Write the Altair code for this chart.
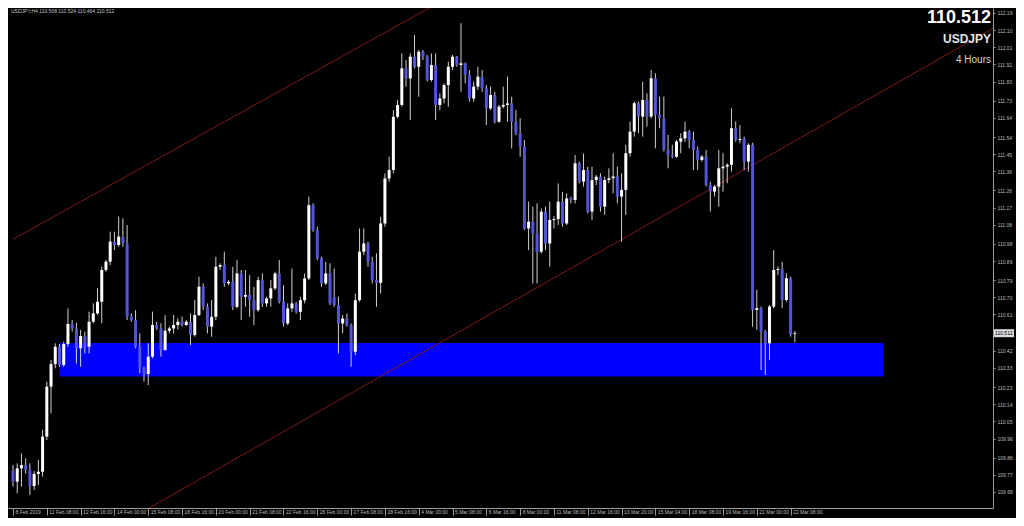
import altair as alt
import pandas as pd

# ---------------- data (USDJPY, H4) ----------------
opens = [
    109.791, 109.734, 109.804, 109.821, 109.795, 109.711, 109.774, 109.786, 109.970, 110.232,
    110.350, 110.441, 110.345, 110.455, 110.560, 110.537, 110.433, 110.497, 110.441, 110.572,
    110.616, 110.677, 110.843, 110.887, 110.992, 110.974, 111.018, 110.983, 110.599, 110.581,
    110.441, 110.328, 110.298, 110.389, 110.555, 110.537, 110.424, 110.525, 110.537, 110.555,
    110.572, 110.555, 110.572, 110.502, 110.607, 110.756, 110.650, 110.546, 110.598, 110.860,
    110.869, 110.773, 110.781, 110.650, 110.825, 110.703, 110.712, 110.685, 110.633, 110.790,
    110.668, 110.694, 110.747, 110.825, 110.677, 110.563, 110.642, 110.668, 110.624, 110.685,
    110.799, 111.183, 111.052, 110.904, 110.773, 110.825, 110.700, 110.659, 110.563, 110.589,
    110.554, 110.415, 110.685, 110.939, 110.982, 110.886, 110.790, 110.776, 111.087, 111.323,
    111.367, 111.646, 111.708, 111.900, 111.847, 111.961, 111.908, 111.987, 111.961, 111.839,
    111.917, 111.708, 111.742, 111.812, 111.908, 111.961, 111.917, 111.926, 111.865, 111.742,
    111.804, 111.856, 111.795, 111.690, 111.760, 111.620, 111.699, 111.708, 111.716, 111.620,
    111.559, 111.489, 111.061, 111.096, 111.035, 110.939, 111.149, 110.982, 111.105, 111.110,
    111.201, 111.087, 111.218, 111.210, 111.402, 111.306, 111.367, 111.149, 111.314, 111.332,
    111.175, 111.315, 111.324, 111.333, 111.228, 111.263, 111.455, 111.568, 111.717, 111.647,
    111.734, 111.647, 111.848, 111.656, 111.638, 111.472, 111.446, 111.437, 111.516, 111.533,
    111.568, 111.525, 111.472, 111.420, 111.437, 111.289, 111.254, 111.280, 111.376, 111.385,
    111.394, 111.586, 111.525, 111.530, 111.411, 111.499, 110.634, 110.643, 110.520, 110.459,
    110.651, 110.843, 110.848, 110.686, 110.800, 110.508,
]
highs = [
    109.821, 109.830, 109.882, 109.856, 109.830, 109.790, 109.847, 110.005, 110.258, 110.371,
    110.459, 110.455, 110.468, 110.642, 110.581, 110.567, 110.529, 110.520, 110.625, 110.668,
    110.747, 110.861, 110.896, 111.044, 111.044, 111.123, 111.114, 111.079, 110.616, 110.633,
    110.511, 110.336, 110.459, 110.625, 110.572, 110.564, 110.607, 110.546, 110.607, 110.590,
    110.599, 110.581, 110.616, 110.686, 110.808, 110.773, 110.668, 110.685, 110.912, 110.878,
    110.939, 110.790, 110.860, 110.895, 110.843, 110.843, 110.816, 110.755, 110.808, 110.825,
    110.703, 110.790, 110.834, 110.895, 110.764, 110.668, 110.851, 110.677, 110.703, 110.825,
    111.227, 111.192, 111.070, 110.912, 110.886, 110.878, 110.851, 110.703, 110.607, 110.615,
    110.563, 110.720, 111.061, 111.061, 110.990, 110.912, 110.930, 111.122, 111.349, 111.437,
    111.681, 111.734, 111.978, 111.943, 111.978, 112.074, 111.996, 111.996, 111.970, 111.978,
    111.978, 111.769, 111.821, 111.935, 111.970, 111.965, 112.136, 111.930, 111.891, 111.830,
    111.908, 111.891, 111.812, 111.804, 111.777, 111.708, 111.804, 111.856, 111.751, 111.681,
    111.638, 111.524, 111.201, 111.175, 111.192, 111.166, 111.175, 111.201, 111.125, 111.297,
    111.253, 111.245, 111.227, 111.446, 111.411, 111.454, 111.384, 111.384, 111.341, 111.350,
    111.333, 111.376, 111.455, 111.385, 111.350, 111.499, 111.621, 111.726, 111.726, 111.830,
    111.769, 111.892, 111.874, 111.752, 111.752, 111.551, 111.499, 111.525, 111.560, 111.621,
    111.577, 111.568, 111.490, 111.446, 111.472, 111.306, 111.289, 111.472, 111.455, 111.402,
    111.691, 111.621, 111.603, 111.542, 111.507, 111.510, 110.739, 110.651, 110.529, 110.660,
    110.948, 110.862, 110.887, 110.826, 110.808, 110.524,
]
lows = [
    109.708, 109.673, 109.708, 109.777, 109.664, 109.690, 109.716, 109.760, 109.952, 110.092,
    110.328, 110.336, 110.336, 110.441, 110.520, 110.354, 110.336, 110.406, 110.406, 110.564,
    110.607, 110.564, 110.834, 110.869, 110.948, 110.965, 110.965, 110.581, 110.572, 110.433,
    110.302, 110.258, 110.240, 110.380, 110.529, 110.389, 110.420, 110.511, 110.511, 110.532,
    110.546, 110.550, 110.450, 110.494, 110.602, 110.633, 110.511, 110.493, 110.581, 110.843,
    110.755, 110.764, 110.633, 110.642, 110.581, 110.650, 110.598, 110.554, 110.624, 110.650,
    110.650, 110.650, 110.738, 110.668, 110.546, 110.554, 110.624, 110.615, 110.581, 110.668,
    110.790, 111.043, 110.895, 110.755, 110.764, 110.659, 110.650, 110.406, 110.511, 110.546,
    110.336, 110.397, 110.677, 110.921, 110.860, 110.773, 110.650, 110.720, 111.070, 111.306,
    111.349, 111.638, 111.699, 111.804, 111.629, 111.900, 111.751, 111.943, 111.830, 111.830,
    111.629, 111.681, 111.716, 111.699, 111.891, 111.908, 111.777, 111.821, 111.725, 111.725,
    111.786, 111.777, 111.603, 111.681, 111.611, 111.615, 111.690, 111.620, 111.480, 111.550,
    111.437, 111.052, 110.948, 110.773, 110.773, 110.930, 110.948, 110.860, 111.061, 111.079,
    111.070, 111.079, 111.192, 111.192, 111.297, 111.280, 111.140, 111.105, 111.288, 111.149,
    111.132, 111.298, 111.245, 111.193, 110.992, 111.132, 111.437, 111.542, 111.560, 111.542,
    111.595, 111.638, 111.481, 111.586, 111.464, 111.376, 111.429, 111.430, 111.455, 111.516,
    111.481, 111.367, 111.367, 111.411, 111.280, 111.149, 111.228, 111.175, 111.254, 111.298,
    111.359, 111.516, 111.507, 111.367, 111.359, 110.546, 110.529, 110.319, 110.293, 110.372,
    110.643, 110.817, 110.643, 110.677, 110.494, 110.464,
]
closes = [
    109.734, 109.804, 109.821, 109.795, 109.711, 109.774, 109.786, 109.970, 110.232, 110.350,
    110.441, 110.345, 110.455, 110.560, 110.537, 110.433, 110.497, 110.441, 110.572, 110.616,
    110.677, 110.843, 110.887, 110.992, 110.974, 111.018, 110.983, 110.599, 110.581, 110.441,
    110.328, 110.298, 110.389, 110.555, 110.537, 110.424, 110.525, 110.537, 110.555, 110.572,
    110.555, 110.572, 110.502, 110.607, 110.756, 110.650, 110.546, 110.598, 110.860, 110.869,
    110.773, 110.781, 110.650, 110.825, 110.703, 110.712, 110.685, 110.633, 110.790, 110.668,
    110.694, 110.747, 110.825, 110.677, 110.563, 110.642, 110.668, 110.624, 110.685, 110.799,
    111.183, 111.052, 110.904, 110.773, 110.825, 110.668, 110.659, 110.563, 110.589, 110.554,
    110.415, 110.685, 110.939, 110.982, 110.886, 110.790, 110.776, 111.087, 111.323, 111.367,
    111.646, 111.708, 111.900, 111.847, 111.961, 111.908, 111.987, 111.961, 111.839, 111.917,
    111.708, 111.742, 111.812, 111.908, 111.961, 111.917, 111.926, 111.865, 111.742, 111.804,
    111.856, 111.795, 111.690, 111.760, 111.620, 111.699, 111.708, 111.716, 111.620, 111.559,
    111.489, 111.061, 111.096, 111.035, 110.939, 111.149, 110.982, 111.105, 111.110, 111.201,
    111.087, 111.218, 111.210, 111.402, 111.306, 111.367, 111.149, 111.314, 111.332, 111.175,
    111.315, 111.324, 111.333, 111.228, 111.263, 111.455, 111.568, 111.717, 111.647, 111.734,
    111.647, 111.848, 111.656, 111.638, 111.472, 111.446, 111.437, 111.516, 111.533, 111.568,
    111.525, 111.472, 111.420, 111.437, 111.289, 111.254, 111.280, 111.376, 111.385, 111.394,
    111.586, 111.525, 111.530, 111.411, 111.499, 110.634, 110.643, 110.520, 110.459, 110.651,
    110.843, 110.848, 110.686, 110.800, 110.503, 110.512,
]

x_ticks = list(range(0, 185, 8))
x_labels = [
    "8 Feb 2019", "11 Feb 08:00", "12 Feb 16:00", "14 Feb 00:00", "15 Feb 08:00",
    "18 Feb 16:00", "20 Feb 00:00", "21 Feb 08:00", "22 Feb 16:00", "26 Feb 00:00",
    "27 Feb 08:00", "28 Feb 16:00", "4 Mar 00:00", "5 Mar 08:00", "6 Mar 16:00",
    "8 Mar 00:00", "11 Mar 08:00", "12 Mar 16:00", "13 Mar 20:00", "15 Mar 04:00",
    "18 Mar 08:00", "19 Mar 16:00", "21 Mar 00:00", "22 Mar 08:00",
]
y_ticks = [
    112.19, 112.10, 112.01, 111.92, 111.83, 111.73, 111.64, 111.54, 111.45, 111.36,
    111.26, 111.17, 111.08, 110.98, 110.89, 110.79, 110.70, 110.61, 110.42, 110.33,
    110.23, 110.14, 110.05, 109.96, 109.86, 109.77, 109.68,
]

current_price = 110.512
symbol = "USDJPY"
timeframe = "4 Hours"
header = "USDJPY,H4  110.508 110.524 110.464 110.512"

# support zone (bar index range, price range)
zone_x = [11.0, 205.9]
zone_p = [110.460, 110.285]
# channel lines (bar index, price)
upper_x = [0, 120]
upper_p = [111.004, 112.481]
lower_x = [18, 232]
lower_p = [109.417, 112.111]

# ---------------- chart ----------------
FONT = "Liberation Sans"
W, H = 985, 500
AX = "#9a9a9a"

df = pd.DataFrame({"i": list(range(len(opens))), "o": opens, "h": highs, "l": lows, "c": closes})
df["dir"] = ["up" if c >= o else "down" for o, c in zip(opens, closes)]

x_scale = alt.Scale(domain=[0, 230.7], nice=False, zero=False)
y_scale = alt.Scale(domain=[109.596, 112.216], nice=False, zero=False)

label_js = "[" + ",".join("'%s'" % s for s in x_labels) + "]"
x_axis = alt.Axis(
    values=x_ticks, labelExpr=label_js + "[round(datum.value/8)]", orient="bottom",
    title=None, grid=False, labelAlign="left", labelBaseline="top", labelFontSize=5,
    labelColor="#bdbdbd", labelFont=FONT, tickSize=7, tickColor=AX, domainColor=AX,
    labelPadding=-6, labelOffset=2, labelOverlap=False, labelFlush=False, labelBound=False,
)
y_axis = alt.Axis(
    values=y_ticks, format=".2f", orient="right", title=None, grid=False,
    labelFontSize=5, labelColor="#bdbdbd", labelFont=FONT, tickSize=2, tickColor=AX,
    domainColor=AX, labelPadding=2, labelOverlap=False, labelFlush=False, labelBound=False,
)


def X(field):
    return alt.X(field, type="quantitative", scale=x_scale, axis=x_axis)


def Y(field):
    return alt.Y(field, type="quantitative", scale=y_scale, axis=y_axis)


zone_df = pd.DataFrame({"x0": [zone_x[0]], "x1": [zone_x[1]], "p0": [zone_p[0]], "p1": [zone_p[1]]})
zone = alt.Chart(zone_df).mark_rect(color="#0000ff").encode(
    x=X("x0"), x2="x1", y=Y("p0"), y2="p1"
)

chan_df = pd.DataFrame({
    "line": ["upper", "upper", "lower", "lower"],
    "x": upper_x + lower_x,
    "p": upper_p + lower_p,
})
channel = alt.Chart(chan_df).mark_line(color="#7e1818", strokeWidth=1, clip=True).encode(
    x=X("x"), y=Y("p"), detail="line:N"
)

wick = alt.Chart(df).mark_rule(color="#cfcfcf", strokeWidth=1, clip=True).encode(
    x=X("i"), y=Y("l"), y2="h"
)
body = alt.Chart(df).mark_bar(width=3, clip=True).encode(
    x=X("i"), y=Y("o"), y2="c",
    color=alt.Color("dir:N", scale=alt.Scale(domain=["up", "down"], range=["#ffffff", "#5454da"]), legend=None),
)

half_box = 0.021
cur_df = pd.DataFrame({
    "p": [current_price], "top": [current_price + half_box], "bot": [current_price - half_box],
    "t": ["%.3f" % current_price],
})
price_box = alt.Chart(cur_df).mark_rect(color="#dcdcdc").encode(
    x=alt.value(W + 1), x2=alt.value(W + 21), y=Y("top"), y2="bot"
)
price_txt = alt.Chart(cur_df).mark_text(
    align="left", baseline="middle", fontSize=5, font=FONT, color="#000000"
).encode(x=alt.value(W + 2), y=Y("p"), text="t:N")


def label(text, x, y, size, weight="normal", color="#ffffff", align="right", baseline="alphabetic"):
    return alt.Chart(pd.DataFrame({"t": [text]})).mark_text(
        align=align, baseline=baseline, fontSize=size, fontWeight=weight, font=FONT, color=color
    ).encode(x=alt.value(x), y=alt.value(y), text="t:N")


big_price = label("%.3f" % current_price, 983, 15, 18, "bold", "#ffffff")
sym = label(symbol, 983, 35, 12, "bold", "#e4e4e4")
tf = label(timeframe, 983, 55, 10, "normal", "#d4d4d4")
hdr = label(header, 3, 1, 5, "normal", "#c4c4c4", align="left", baseline="top")

chart = alt.layer(
    zone, channel, wick, body, price_box, price_txt, big_price, sym, tf, hdr
).properties(
    width=W, height=H,
    padding={"left": 0, "top": 0, "right": 23, "bottom": 10},
    autosize=alt.AutoSizeParams(type="none"),
    background="#000000",
).configure_view(stroke=None)

chart.save("out.html", embed_options={"renderer": "svg", "actions": False})
